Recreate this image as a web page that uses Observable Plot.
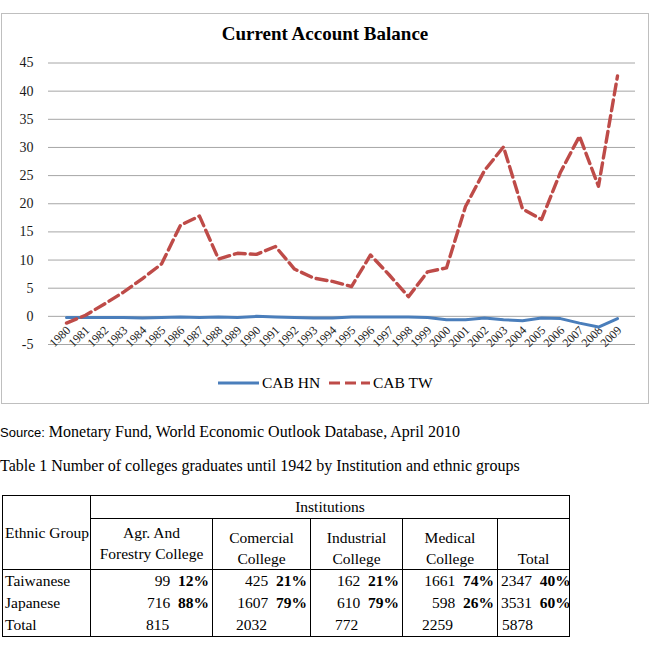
<!DOCTYPE html>
<html>
<head>
<meta charset="utf-8">
<script src="https://cdn.jsdelivr.net/npm/d3@7"></script>
<script src="https://cdn.jsdelivr.net/npm/@observablehq/plot@0.6"></script>
<style>
  html, body { margin: 0; padding: 0; background: #fff; }
  body { width: 651px; height: 655px; position: relative; overflow: hidden; font-family: "Liberation Serif", "Times New Roman", serif; color: #000; }
  #box { position: absolute; left: 1px; top: 13px; width: 648px; height: 391px; border: 1px solid #bfbfbf; box-sizing: border-box; }
  #title { position: absolute; left: 0; width: 646px; top: 9px; text-align: center; font-weight: bold; font-size: 19px; line-height: 22px; }
  #chart { position: absolute; left: 0; top: 0; }
  #legend { position: absolute; top: 358px; left: 0; width: 646px; height: 22px; font-size: 15.5px; }
  .lg { position: absolute; top: 0; line-height: 22px; white-space: nowrap; }
  #source { position: absolute; left: 0; top: 423px; font-size: 16px; line-height: 18px; white-space: nowrap; }
  #source .s { font-family: "Liberation Sans", Arial, sans-serif; font-size: 13px; }
  #tcap { position: absolute; left: 0; top: 457px; font-size: 16px; line-height: 18px; white-space: nowrap; }
  table { position: absolute; left: 2px; top: 495px; border-collapse: collapse; table-layout: fixed; width: 567px; font-size: 15.5px; }
  td { border-left: 1px solid #000; border-right: 1px solid #000; padding: 0 3px; line-height: 22px; height: 22px; white-space: nowrap; overflow: visible; }
  tr.top td { border-top: 1px solid #000; }
  tr.last td { border-bottom: 1px solid #000; }
  td.r { text-align: right; }
  td.c { text-align: center; }
  td.l { text-align: left; }
  b { font-weight: bold; }
</style>
</head>
<body>
<div id="box">
  <div id="chart"></div>
  <div id="title"></div>
  <div id="legend"></div>
</div>
<div id="source"><span class="s">Source:</span> Monetary Fund, World Economic Outlook Database, April 2010</div>
<div id="tcap">Table 1 Number of colleges graduates until 1942 by Institution and ethnic groups</div>
<div id="tablewrap"></div>
<script>
// ---------- chart data ----------
const chartTitle = "Current Account Balance";
const years = ["1980","1981","1982","1983","1984","1985","1986","1987","1988","1989",
               "1990","1991","1992","1993","1994","1995","1996","1997","1998","1999",
               "2000","2001","2002","2003","2004","2005","2006","2007","2008","2009"];
const cabHN = [-0.2,-0.2,-0.2,-0.2,-0.3,-0.2,-0.1,-0.2,-0.1,-0.2,
               0.0,-0.1,-0.2,-0.3,-0.3,-0.1,-0.1,-0.1,-0.1,-0.2,
               -0.6,-0.6,-0.3,-0.6,-0.8,-0.3,-0.4,-1.2,-1.9,-0.4];
const cabTW = [-1.2,0.2,2.2,4.3,6.7,9.3,16.2,17.8,10.2,11.2,
               11.0,12.4,8.4,6.8,6.2,5.3,10.9,7.3,3.5,7.9,
               8.6,19.5,25.9,30.1,19.1,17.2,25.6,32.0,23.1,42.7];
const seriesNames = ["CAB HN","CAB TW"];
const yTicks = [-5,0,5,10,15,20,25,30,35,40,45];

// ---------- table data ----------
const tableTitle = "Institutions";
const ethnicHeader = "Ethnic Group";
const colHeaders = [["Agr. And","Forestry College"],["Comercial","College"],["Industrial","College"],["Medical","College"],["","Total"]];
const rowNames = ["Taiwanese","Japanese","Total"];
const taiwaneseCounts = [99,425,162,1661,2347];
const taiwanesePct = ["12%","21%","21%","74%","40%"];
const japaneseCounts = [716,1607,610,598,3531];
const japanesePct = ["88%","79%","79%","26%","60%"];
const totalCounts = [815,2032,772,2259,5878];

const serif = '"Liberation Serif", "Times New Roman", serif';
const blue = "#4a7ebb", red = "#be4b48";

const rows = [];
years.forEach((y, i) => {
  rows.push({year: y, value: cabHN[i], series: seriesNames[0]});
  rows.push({year: y, value: cabTW[i], series: seriesNames[1]});
});

document.getElementById("title").textContent = chartTitle;

const chart = Plot.plot({
  width: 646,
  height: 389,
  marginLeft: 46,
  marginRight: 13,
  marginTop: 48.5,
  marginBottom: 59,
  style: {fontFamily: serif, background: "transparent", overflow: "visible"},
  x: {type: "point", domain: years, padding: 0.5, axis: null},
  y: {domain: [-5, 45], axis: null},
  marks: [
    Plot.ruleY(yTicks, {stroke: "#a6a6a6", strokeWidth: 1}),
    Plot.text(yTicks, {y: d => d, frameAnchor: "left", textAnchor: "end", dx: -15, fontSize: 14, fontFamily: serif, fill: "#1a1a1a"}),
    Plot.text(years, {x: d => d, y: -2.1, dx: 2, rotate: -45, textAnchor: "end", fontSize: 12, fontFamily: serif, fill: "#222"}),
    Plot.line(rows.filter(d => d.series === seriesNames[0]), {x: "year", y: "value", stroke: blue, strokeWidth: 3}),
    Plot.line(rows.filter(d => d.series === seriesNames[1]), {x: "year", y: "value", stroke: red, strokeWidth: 3.4, strokeDasharray: "11,5"})
  ]
});
document.getElementById("chart").appendChild(chart);

// legend
const legend = document.getElementById("legend");
const legendItems = [
  {name: seriesNames[0], color: blue, dash: null, left: 216},
  {name: seriesNames[1], color: red, dash: "11,5", left: 327}
];
legendItems.forEach(it => {
  const el = document.createElement("div");
  el.className = "lg";
  el.style.left = it.left + "px";
  el.innerHTML = `<svg width="41" height="22" style="vertical-align:top"><line x1="0" x2="41" y1="11" y2="11" stroke="${it.color}" stroke-width="3.2" ${it.dash ? `stroke-dasharray="${it.dash}"` : ""}/></svg><span style="margin-left:3px">${it.name}</span>`;
  legend.appendChild(el);
});

// table
const colWidths = [88, 122, 98, 92, 95, 72];
const totalPad = [55, 23, 24, 19, 4];
let html = `<table><colgroup>${colWidths.map(w => `<col style="width:${w}px">`).join("")}</colgroup>`;
html += `<tr class="top"><td rowspan="2" class="l" style="border-bottom:1px solid #000;padding-left:2px">${ethnicHeader}</td><td colspan="5" class="c" style="border-bottom:1px solid #000">${tableTitle}</td></tr>`;
html += `<tr>` + colHeaders.map((h, i) =>
  i === 0
    ? `<td class="c" style="vertical-align:top;padding-top:3px;line-height:21px;height:47px;border-bottom:1px solid #000">${h[0]}<br>${h[1]}</td>`
    : `<td class="c" style="vertical-align:bottom;line-height:21px;height:50px;border-bottom:1px solid #000">${h[0] || "&nbsp;"}<br>${h[1]}</td>`
).join("") + `</tr>`;
const rowCell = (c, p) => `<td class="r" style="padding-right:3px">${c}&nbsp;&nbsp;<b>${p}</b></td>`;
html += `<tr><td class="l" style="padding-left:2px">${rowNames[0]}</td>` + taiwaneseCounts.map((c, i) => rowCell(c, taiwanesePct[i])).join("") + `</tr>`;
html += `<tr><td class="l" style="padding-left:2px">${rowNames[1]}</td>` + japaneseCounts.map((c, i) => rowCell(c, japanesePct[i])).join("") + `</tr>`;
html += `<tr class="last"><td class="l" style="padding-left:2px">${rowNames[2]}</td>` + totalCounts.map((c, i) => `<td class="l" style="padding-left:${totalPad[i]}px">${c}</td>`).join("") + `</tr>`;
html += `</table>`;
document.getElementById("tablewrap").innerHTML = html;
</script>
</body>
</html>
